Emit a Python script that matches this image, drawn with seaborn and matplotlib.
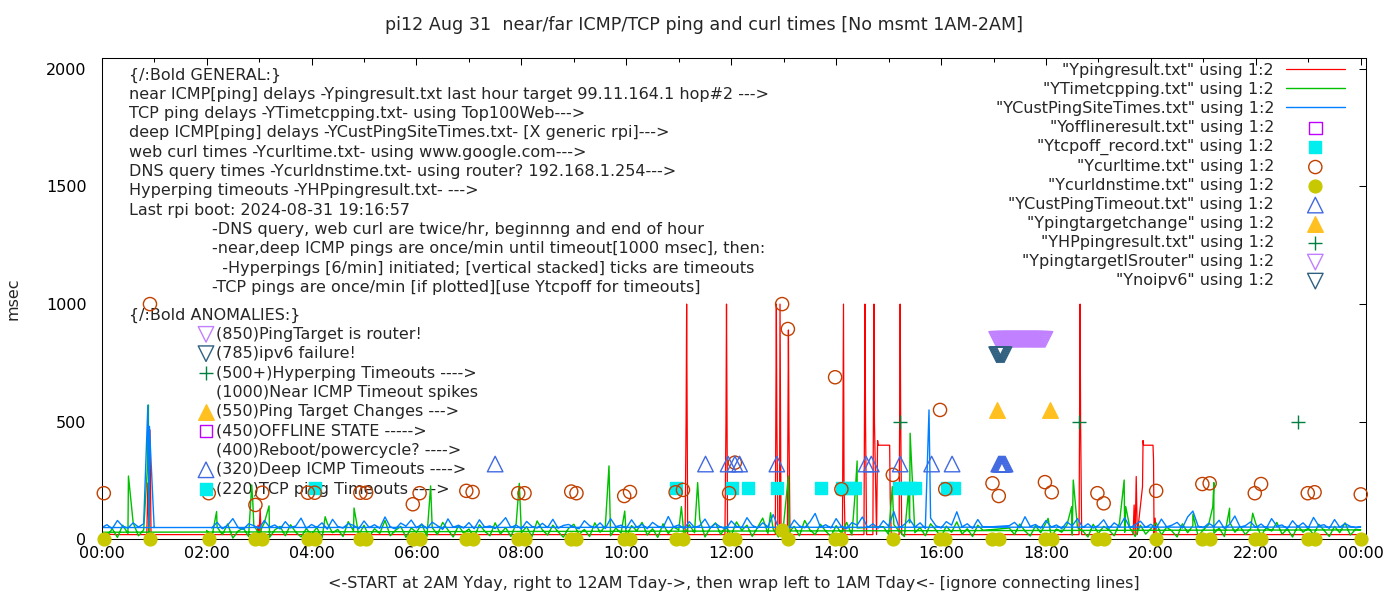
import numpy as np
import pandas as pd
import seaborn as sns
from matplotlib import pyplot as plt

W, H = 1400, 600
FS = 11.55

TITLE = "pi12 Aug 31  near/far ICMP/TCP ping and curl times [No msmt 1AM-2AM]"
XLABEL = ("<-START at 2AM Yday, right to 12AM Tday->, then wrap left to 1AM Tday<- "
          "[ignore connecting lines]")

N = np.nan
STEP_H = 0.1  # noise series below: one reading every 6 min, 00:00 .. 24:00

# deep ICMP delays (YCustPingSiteTimes.txt)
blue_msec = [
    50, 62, 45, 80, 55, 48, 70, 52, 66, 58,
    50, N, N, N, N, N, N, N, N, N,
    N, 48, 72, 45, 60, 88, 50, 42, 66, 58,
    47, 80, 52, 61, 44, 75, 49, 57, 90, 46,
    63, 51, 70, 43, 85, 54, 48, 67, 59, 45,
    78, 50, 62, 47, 95, 53, 44, 69, 56, 82,
    49, 64, 46, 73, 58, 42, 87, 51, 60, 48,
    71, 45, 83, 52, 57, 46, 66, 92, 50, 61,
    44, 76, 55, 48, 68, 50, 85, 47, 59, 63,
    52, 45, 79, 58, 49, 70, 46, 88, 54, 60,
    47, 83, 51, 64, 45, 72, 56, 49, 97, 53,
    61, 46, 75, 50, 58, 86, 48, 67, 52, 44,
    78, 55, 49, 92, 60, 47, 70, 53, 105, 50,
    64, 46, 82, 57, 49, 74, 110, 51, 62, 48,
    88, 54, 45, 71, 60, 95, 50, 66, 47, 79,
    56, 118, 49, 63, 85, 52, 70, 46, 90, 58,
    48, 75, 60, 117, 53, 66, 46, 84, 51, N,
    N, N, N, 58, 72, 49, 96, 55, 63, 47,
    80, 52, 61, 45, 74, 57, 88, 50, 66, 48,
    59, 83, 46, 70, 54, 92, 49, 62, 77, 51,
    64, 47, 86, 53, 60, 72, 48, 95, 120, 56,
    49, 68, 55, 81, 46, 63, 99, 52, 58, 74,
    50, 65, 47, 88, 56, 61, 45, 79, 53, 70,
    48, 93, 57, 62, 46, 84, 51, 67, 55, 49,
    52,
]
blue_spike_hr = [0.88, 0.91, 15.77]
blue_spike_msec = [570, 480, 550]

# TCP ping delays (YTimetcpping.txt)
green_msec = [
    30, 12, 45, 8, 60, 25, 70, 15, 40, 20,
    18, N, N, N, N, N, N, N, N, N,
    38, 10, 52, 20, 65, 5, 35, 48, 12, 58,
    25, 70, 8, 40, 55, 15, 62, 30, 10, 45,
    20, 50, 6, 68, 28, 42, 12, 75, 35, 18,
    60, 10, 45, 25, 80, 15, 38, 55, 8, 48,
    30, 65, 12, 50, 20, 72, 40, 10, 58, 26,
    44, 8, 62, 35, 15, 70, 22, 50, 12, 66,
    28, 54, 10, 78, 40, 18, 60, 32, 9, 47,
    64, 20, 42, 12, 70, 30, 55, 15, 48, 26,
    10, 58, 36, 72, 18, 45, 8, 66, 24, 52,
    40, 14, 62, 28, 85, 10, 48, 70, 20, 55,
    16, 74, 38, 60, 12, 50, 90, 25, 44, 10,
    68, 30, 55, 15, 80, 40, 20, 64, 35, 12,
    58, 26, 72, 18, 48, N, N, N, N, 54,
    20, 62, 35, 12, 70, 28, 50, 15, 66, 40,
    10, 56, 30, 74, 22, 45, 12, 60, 38, N,
    N, N, N, 48, 20, 65, 35, 14, 58, 28,
    70, 12, 44, 30, 62, 18, 50, 36, 10, 64,
    25, 55, 40, 15, 68, 30, 48, 12, 60, 22,
    45, 70, 18, 52, 35, 10, 66, 28, 58, 14,
    40, 62, 25, 48, 12, 74, 30, 55, 20, 45,
    66, 15, 50, 35, 72, 22, 44, 10, 58, 30,
    48, 20, 64, 38, 12, 55, 28, 70, 18, 42,
    40,
]
green_spike_hr = [0.51, 0.87, 0.89, 2.19, 2.86, 2.88, 3.19, 4.26, 4.81, 6.27, 7.96,
                  9.67, 9.97, 11.05, 11.36, 12.75, 13.09, 14.36, 14.40, 15.07, 15.38,
                  15.41, 18.04, 18.49, 18.52, 19.49, 19.52, 20.80, 21.18, 21.20, 21.50,
                  21.94]
green_spike_msec = [269, 300, 571, 118, 231, 160, 142, 96, 133, 227, 238,
                    312, 120, 139, 241, 113, 269, 189, 333, 224, 210,
                    451, 89, 139, 252, 252, 139, 107, 139, 241, 132,
                    111]

# near ICMP delays (Ypingresult.txt)
red_hr = [0.00, 0.30, 0.86, 0.88, 0.90, 0.92, 0.94, 1.00, 2.00, 2.96, 2.98, 3.00,
          3.02, 3.04, 10.00, 11.12, 11.14, 11.15, 11.17, 11.88, 11.90, 11.91, 11.93,
          12.84, 12.86, 12.87, 12.89, 12.92, 12.93, 12.95, 13.07, 13.09, 13.10, 13.12,
          14.12, 14.14, 14.15, 14.17, 14.53, 14.55, 14.56, 14.58, 14.70, 14.72, 14.73,
          14.77, 14.79, 14.80, 15.02, 15.03, 15.05, 15.20, 15.22, 15.23, 15.25, 18.63,
          18.65, 18.66, 18.68, 19.66, 19.68, 19.70, 19.72, 19.74, 19.84, 19.85, 19.86,
          20.04, 20.05, 20.06, 20.08, 20.10, 24.00]
red_msec = [22, 20, 20, 240, 20, 465, 20, 20, 20, 20, 60, 20,
            130, 20, 20, 20, 510, 1000, 20, 20, 500, 1000, 20,
            20, 1000, 500, 20, 20, 1000, 20, 20, 890, 500, 20,
            20, 1000, 245, 20, 20, 1000, 500, 20, 20, 1000, 500,
            20, 420, 400, 400, 180, 20, 20, 1000, 520, 20, 20,
            1000, 495, 20, 20, 146, 20, 267, 20, 224, 420, 400,
            400, 337, 20, 90, 20, 20]

tcpoff_hr = [4.06, 10.95, 12.02, 12.32, 12.88, 13.71, 14.12, 14.24, 14.36, 15.20, 15.30,
             15.40, 15.50, 16.12, 16.24]
tcpoff_msec = [220] * len(tcpoff_hr)

curl_hr = [0.04, 0.92, 2.04, 2.93, 3.06, 3.93, 4.06, 4.93, 5.04, 5.93, 6.06, 6.95, 7.07,
           7.94, 8.06, 8.95, 9.05, 9.96, 10.07, 10.94, 11.08, 11.96, 12.07, 12.97, 13.08,
           13.98, 14.10, 15.08, 15.98, 16.08, 16.98, 17.10, 17.98, 18.11, 18.98, 19.10,
           20.10, 20.98, 21.12, 21.98, 22.10, 22.99, 23.12, 24.00]
curl_msec = [196, 1000, 196, 146, 198, 198, 198, 198, 198, 149, 196, 206, 201,
             196, 196, 203, 196, 184, 201, 200, 210, 196, 326, 1000, 894,
             689, 213, 274, 550, 213, 238, 184, 243, 200, 196, 153,
             206, 235, 238, 196, 235, 196, 200, 191]

dns_hr = curl_hr
dns_msec = [0] * 23 + [38] + [0] * 20

cust_timeout_hr = [7.50, 11.51, 11.94, 12.07, 12.16, 12.87, 14.57, 14.67, 15.22, 15.82,
                   16.21, 17.10, 17.12, 17.14, 17.16, 17.18, 17.20, 17.22]
cust_timeout_msec = [320] * len(cust_timeout_hr)

target_change_hr = [17.06, 18.08]
target_change_msec = [550, 550]

hpping_hr = [15.21, 18.62, 22.80]
hpping_msec = [500, 500, 500]

is_router_hr = [17.06, 17.08, 17.10, 17.12, 17.14, 17.16, 17.18, 17.20, 17.22, 17.24,
                17.26, 17.28, 17.30, 17.32, 17.34, 17.36, 17.38, 17.40, 17.42, 17.44,
                17.46, 17.48, 17.50, 17.52, 17.54, 17.56, 17.58, 17.60, 17.62, 17.64,
                17.66, 17.68, 17.70, 17.72, 17.74, 17.76, 17.78, 17.80, 17.82, 17.84,
                17.86, 17.88, 17.90, 17.92, 17.94, 17.96, 17.98]
is_router_msec = [850] * len(is_router_hr)

noipv6_hr = [17.06, 17.08, 17.10, 17.12, 17.14, 17.16, 17.18, 17.20]
noipv6_msec = [785] * len(noipv6_hr)

GENERAL = [
    "{/:Bold GENERAL:}",
    "near ICMP[ping] delays -Ypingresult.txt last hour target 99.11.164.1 hop#2 --->",
    "TCP ping delays -YTimetcpping.txt- using Top100Web--->",
    "deep ICMP[ping] delays -YCustPingSiteTimes.txt- [X generic rpi]--->",
    "web curl times -Ycurltime.txt- using www.google.com--->",
    "DNS query times -Ycurldnstime.txt- using router? 192.168.1.254--->",
    "Hyperping timeouts -YHPpingresult.txt- --->",
    "Last rpi boot: 2024-08-31 19:16:57",
]
NOTES = [
    "-DNS query, web curl are twice/hr, beginnng and end of hour",
    "-near,deep ICMP pings are once/min until timeout[1000 msec], then:",
    "  -Hyperpings [6/min] initiated; [vertical stacked] ticks are timeouts",
    "-TCP pings are once/min [if plotted][use Ytcpoff for timeouts]",
]
ANOMALIES = [
    "(850)PingTarget is router!",
    "(785)ipv6 failure!",
    "(500+)Hyperping Timeouts ---->",
    "(1000)Near ICMP Timeout spikes",
    "(550)Ping Target Changes --->",
    "(450)OFFLINE STATE ----->",
    "(400)Reboot/powercycle? ---->",
    "(320)Deep ICMP Timeouts ---->",
    "(220)TCP ping Timeouts ---->",
]

RED, GREEN, BLUE = "#ff0000", "#00c000", "#0080ff"
# marker, colour, filled, size (scatter s)
STYLE = {
    "offline": ("s", "#c000ff", False, 80),
    "tcpoff": ("s", "#00eeee", True, 80),
    "curl": ("o", "#c04000", False, 90),
    "dns": ("o", "#c8c800", True, 85),
    "cust": ("^", "#4169e1", False, 125),
    "target": ("^", "#ffc020", True, 125),
    "hpping": ("+", "#008040", True, 90),
    "router": ("v", "#c080ff", False, 125),
    "noipv6": ("v", "#306080", False, 125),
}
ANOM_ICONS = ["router", "noipv6", "hpping", None, "target", "offline", None, "cust", "tcpoff"]


def wrapped(vals, spike_hr, spike_msec):
    grid = pd.DataFrame({"hour": np.arange(len(vals)) * STEP_H, "msec": vals})
    spikes = pd.DataFrame({"hour": spike_hr, "msec": spike_msec})
    df = pd.concat([grid, spikes]).dropna().sort_values("hour")
    # the log starts at 2AM and wraps back to 00:00-01:00, keep file order
    return pd.concat([df[df.hour >= 2], df[df.hour < 2]])


def scatter(ax, key, hr, msec, label):
    marker, color, filled, size = STYLE[key]
    face = color if filled else "none"
    return sns.scatterplot(x=hr, y=msec, marker=marker, s=size, color=color,
                           facecolor=face, edgecolor=color, linewidth=1.0,
                           clip_on=False, zorder=3, label=label, legend=False, ax=ax)


def main():
    sns.set_theme(style="white")
    plt.rcParams["font.family"] = ["DejaVu Sans"]
    plt.rcParams["font.size"] = FS

    fig = plt.figure(figsize=(W / 100, H / 100), dpi=100)
    ax = fig.add_axes([101.7 / W, 1 - 539.3 / H, (1366 - 101.7) / W, 481 / H])

    red = pd.DataFrame({"hour": red_hr, "msec": red_msec})
    sns.lineplot(red, x="hour", y="msec", sort=False, estimator=None, color=RED, lw=0.9,
                 label='"Ypingresult.txt" using 1:2', legend=False, zorder=2, ax=ax)
    sns.lineplot(wrapped(green_msec, green_spike_hr, green_spike_msec), x="hour", y="msec",
                 sort=False, estimator=None, color=GREEN, lw=1.0,
                 label='"YTimetcpping.txt" using 1:2', legend=False, zorder=2, ax=ax)
    sns.lineplot(wrapped(blue_msec, blue_spike_hr, blue_spike_msec), x="hour", y="msec",
                 sort=False, estimator=None, color=BLUE, lw=1.0,
                 label='"YCustPingSiteTimes.txt" using 1:2', legend=False, zorder=2, ax=ax)

    m, c, _, s = STYLE["offline"]
    ax.scatter([], [], marker=m, s=s, facecolor="none", edgecolor=c, linewidth=1.0,
               label='"Yofflineresult.txt" using 1:2')
    scatter(ax, "tcpoff", tcpoff_hr, tcpoff_msec, '"Ytcpoff_record.txt" using 1:2')
    scatter(ax, "curl", curl_hr, curl_msec, '"Ycurltime.txt" using 1:2')
    scatter(ax, "dns", dns_hr, dns_msec, '"Ycurldnstime.txt" using 1:2')
    scatter(ax, "cust", cust_timeout_hr, cust_timeout_msec, '"YCustPingTimeout.txt" using 1:2')
    scatter(ax, "target", target_change_hr, target_change_msec, '"Ypingtargetchange" using 1:2')
    scatter(ax, "hpping", hpping_hr, hpping_msec, '"YHPpingresult.txt" using 1:2')
    scatter(ax, "router", is_router_hr, is_router_msec, '"YpingtargetISrouter" using 1:2')
    scatter(ax, "noipv6", noipv6_hr, noipv6_msec, '"Ynoipv6" using 1:2')

    ax.set_xlim(0, 24.1)
    ax.set_ylim(0, 2045)
    ax.set_xticks(range(0, 25, 2))
    ax.set_xticklabels([f"{h % 24:02d}:00" for h in range(0, 25, 2)])
    ax.set_xticks(range(0, 25), minor=True)
    ax.set_yticks(range(0, 2001, 500))
    ax.tick_params(which="both", direction="in", top=True, right=True, width=0.75,
                   colors="black", labelsize=FS)
    ax.tick_params(which="major", length=5)
    ax.tick_params(which="minor", length=3)
    ax.tick_params(axis="y", pad=11)
    ax.tick_params(axis="x", pad=5)
    for sp in ax.spines.values():
        sp.set_color("black")
        sp.set_linewidth(0.75)

    ax.set_xlabel(XLABEL, fontsize=FS)
    ax.xaxis.set_label_coords(0.5, -0.076)
    ax.set_ylabel("msec", fontsize=FS)
    ax.yaxis.set_label_coords(-0.064, 0.5)
    fig.suptitle(TITLE, x=704 / W, y=1 - 25 / H, va="center", fontsize=12.6)

    def put(px, py, s):
        ax.text(px / W, 1 - py / H, s, transform=fig.transFigure, ha="left", va="center",
                fontsize=FS, zorder=1)

    for i, s in enumerate(GENERAL):
        put(129, 75 + 19.3 * i, s)
    for i, s in enumerate(NOTES):
        put(212, 75 + 19.3 * (len(GENERAL) + i), s)
    put(129, 315, "{/:Bold ANOMALIES:}")
    for i, (s, key) in enumerate(zip(ANOMALIES, ANOM_ICONS)):
        py = 315 + 19.35 * (i + 1)
        put(216, py, s)
        if key:
            mk, col, filled, size = STYLE[key]
            ax.scatter([206 / W], [1 - py / H], marker=mk, s=size, transform=fig.transFigure,
                       facecolor=col if filled else "none", edgecolor=col,
                       color=col if mk == "+" else None,
                       linewidth=1.0, clip_on=False, zorder=3)

    handles, labels = ax.get_legend_handles_labels()
    ax.legend(handles, labels, loc="upper right", bbox_to_anchor=(1345 / W, 1 - 63 / H),
              bbox_transform=fig.transFigure, frameon=False, markerfirst=False,
              handlelength=3.7, handletextpad=0.72, labelspacing=0.25, borderpad=0,
              borderaxespad=0, fontsize=FS, scatterpoints=1)

    fig.savefig("out.png", dpi=100)


if __name__ == "__main__":
    main()
